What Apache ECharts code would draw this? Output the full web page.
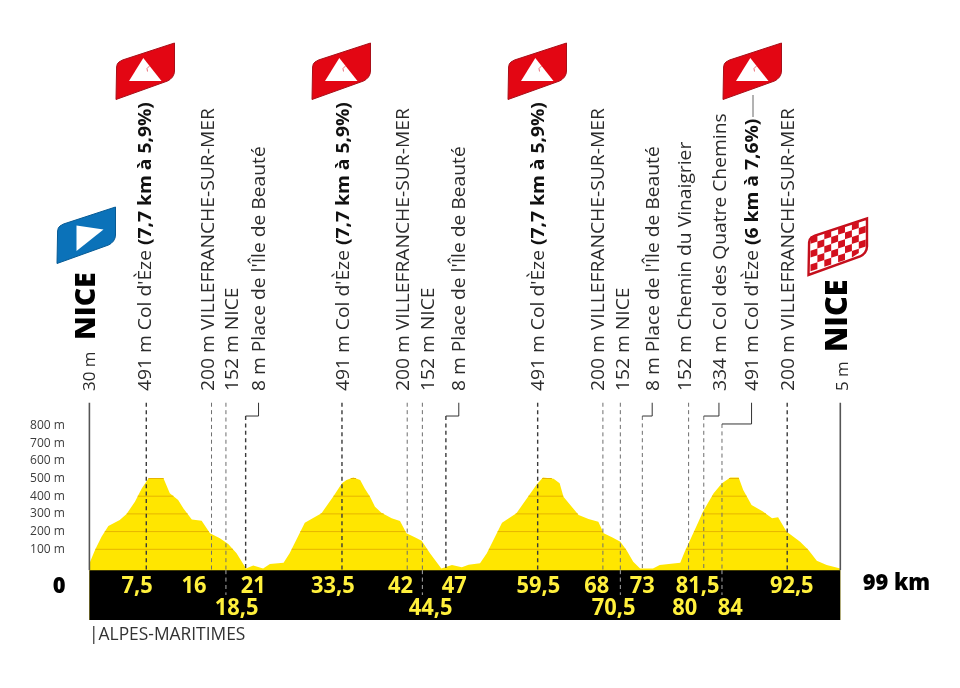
<!DOCTYPE html>
<html><head><meta charset="utf-8">
<style>html,body{margin:0;padding:0;background:#fff}#c{width:960px;height:688px}</style>
<script src="https://cdn.jsdelivr.net/npm/echarts@6/dist/echarts.min.js"></script>
</head><body><div id="c"></div>
<script>
// Elevation profile: km along the stage
var profileKm = [0,0.74,1.6,2.5,4,4.9,6,6.9,7.8,9.75,10.6,11.7,12.4,13.5,14.8,15.9,17.2,18.3,19.4,20.65,21.6,22.9,23.8,25.6,26.4,28.4,30.6,32.2,33.3,33.9,34.8,35.7,36.3,37,37.65,38.5,39.85,40.95,41.8,42.9,43.8,44.9,46.4,47.8,49.1,50,51.5,52.4,54.4,56.3,57.9,59,59.8,61.2,62,62.5,63.4,64.5,65.8,67.1,67.8,68.9,70,70.8,71.7,72.6,74.3,75.2,77.9,78.5,79.2,80.3,80.9,82.3,83.4,84.5,85.6,86.2,87.3,88.8,90,90.8,91.9,93.7,94.8,95.9,97.2,99];
var profileM = [20,96,171,232,266,299,369,444,501,503,416,379,331,269,262,190,162,130,77,-8,9,-8,17,24,77,250,303,401,473,492,505,492,444,397,341,307,275,260,190,168,149,77,-8,11,-2,13,21,77,250,303,401,467,505,499,473,397,350,294,271,256,190,168,143,96,30,-8,-8,11,24,87,153,256,313,416,473,505,505,435,350,313,275,281,200,143,96,36,11,-8];
var gridLevels = [100,200,300,400,500];
var elevTicks = [100,200,300,400,500,600,700,800];

// Waypoints along the route
var stopText = ["491 m Col d'Èze |(7,7 km à 5,9%)","200 m VILLEFRANCHE-SUR-MER","152 m NICE","8 m Place de l'Île de Beauté",
 "491 m Col d'Èze |(7,7 km à 5,9%)","200 m VILLEFRANCHE-SUR-MER","152 m NICE","8 m Place de l'Île de Beauté",
 "491 m Col d'Èze |(7,7 km à 5,9%)","200 m VILLEFRANCHE-SUR-MER","152 m NICE","8 m Place de l'Île de Beauté",
 "152 m Chemin du Vinaigrier","334 m Col des Quatre Chemins","491 m Col d'Èze |(6 km à 7,6%)","200 m VILLEFRANCHE-SUR-MER"];
var stopLineKm = [7.5,16.1,18,20.6,33.3,41.9,43.9,47,59.1,67.7,70,72.9,79,81,83.4,92];
var stopLabelKm = [7.3,15.5,18.7,22.3,33.3,41.3,44.6,48.7,59.1,67,70.3,74.2,78.5,83,87.3,92];
var elbowM = [0,0,0,853,0,0,0,853,0,0,0,853,0,853,808,0];
var stopTone = [1,0,0,1,1,0,0,1,1,0,0,0,0,0,0,1];
var bandDash = [0,0,1,0,0,0,1,0,0,0,1,0,0,0,1,0];

// Distance labels in the black band
var kmText = ["7,5","16","18,5","21","33,5","42","44,5","47","59,5","68","70,5","73","81,5","80","84","92,5"];
var kmTextX = [6.3,13.8,19.4,21.6,32.1,41,45,48.1,59.2,66.9,69.1,72.9,80.2,78.5,84.5,92.6];
var kmRow =   [0,0,1,0,0,0,1,0,0,0,1,0,0,1,1,0];
var rowM = [-111,-233];

var FONT = '"Open Sans"';
var YEL = '#FFE600';
var TOP_M = 928, BASE_M = -18, BOT_M = -300, TEXT_M = 994;

function lvlSegments(level){
  var segs=[], start=null;
  for(var i=0;i<profileKm.length-1;i++){
    var a=profileM[i]-level,b=profileM[i+1]-level;
    var t=(a!==b)?a/(a-b):0, cross=profileKm[i]+t*(profileKm[i+1]-profileKm[i]);
    if(a<0&&b>=0) start=cross;
    if(a>=0&&b<0&&start!==null){segs.push([start,cross]);start=null;}
  }
  return segs;
}
var gridSegs=[];
gridLevels.forEach(function(l){lvlSegments(l).forEach(function(s){gridSegs.push([s[0],s[1],l]);});});

function line(p1,p2,color,w,dash){
  return {type:'line',shape:{x1:p1[0],y1:p1[1],x2:p2[0],y2:p2[1]},
    style:{stroke:color,lineWidth:w,lineDash:dash||null,fill:null}};
}
function polyl(pts,color,w){
  return {type:'polyline',shape:{points:pts},style:{stroke:color,lineWidth:w,fill:null}};
}

// flag artwork
var FLAG=[[58.5,0],[58.5,28],[58,31],[56.5,34],[54,36.5],[51.5,38],[0,56.5],[0.6,24],[1.3,21],[3,19],[6.5,17]];
function mountain(ox,oy){
  return [
   {type:'polygon',x:ox,y:oy,shape:{points:FLAG},style:{fill:'#E30613',stroke:'#A80F19',lineWidth:1}},
   {type:'polygon',x:ox,y:oy,shape:{points:[[13,38],[27.3,15],[45.5,38]]},style:{fill:'#fff'}},
   {type:'polyline',x:ox,y:oy,shape:{points:[[33.5,23],[31,25.5],[31.5,28.5]]},style:{stroke:'#E8606A',lineWidth:0.9,fill:null}}
  ];
}
function startFlag(ox,oy){
  return [
   {type:'polygon',x:ox,y:oy,shape:{points:FLAG},style:{fill:'#0B72B9',stroke:'#075a94',lineWidth:1}},
   {type:'polygon',x:ox,y:oy,shape:{points:[[19.5,18.5],[46.5,22.5],[19.5,44]]},style:{fill:'#fff'}}
  ];
}
function finishFlag(ox,oy){
  var out=[{type:'polygon',x:ox,y:oy,shape:{points:FLAG},style:{fill:'#fff',stroke:'#C40F1C',lineWidth:2.4}}];
  var cw=6.9,ch=6.9,slope=0.327;
  function bottom(x){return Math.min(54.5-0.356*x, x>48?36-(x-48)*0.6:99);}
  for(var i=0;i<8;i++)for(var j=0;j<6;j++){
    if((i+j)%2) continue;
    var x0=2+i*cw, x1=x0+cw;
    var t0=19-0.327*x0+j*ch, t1=t0-cw*slope;
    var b0=Math.min(t0+ch,bottom(x0)), b1=Math.min(t1+ch,bottom(x1));
    if(b0-t0<1.5&&b1-t1<1.5) continue;
    out.push({type:'polygon',x:ox,y:oy,shape:{points:[[x0,t0],[x1,t1],[x1,Math.max(t1,b1)],[x0,Math.max(t0,b0)]]},style:{fill:'#D3101E'}});
  }
  return out;
}
var gfx=[];
[116,312,508,723].forEach(function(x){gfx=gfx.concat(mountain(x,43));});
gfx=gfx.concat(startFlag(57,207)).concat(finishFlag(808.5,218.5));
gfx.push({type:'line',shape:{x1:753,y1:95,x2:753,y2:117},style:{stroke:'#666',lineWidth:1}});
gfx.push({type:'text',x:89,y:635,style:{text:'|ALPES-MARITIMES',fill:'#333',font:'17.4px '+FONT,verticalAlign:'middle'}});

var chart=echarts.init(document.getElementById('c'),null,{renderer:'canvas'});
chart.setOption({
  animation:false,
  backgroundColor:'#fff',
  grid:{left:89.4,top:390,width:750.9,height:230.1,containLabel:false},
  xAxis:{type:'value',min:0,max:99,show:false},
  yAxis:{type:'value',min:-300,max:1000,interval:100,
    axisLine:{show:false},axisTick:{show:false},splitLine:{show:false},
    axisLabel:{margin:24.5,fontFamily:FONT,fontSize:12,color:'#3c3c3c',
      formatter:function(v){return elevTicks.indexOf(v)>=0?v+' m':'';}}},
  graphic:{elements:gfx},
  series:[
    {type:'line',name:'Profil',z:2,symbol:'none',lineStyle:{width:0},
      areaStyle:{color:YEL,opacity:1,origin:'start'},
      data:profileKm.map(function(k,i){return [k,profileM[i]];})},
    {type:'custom',name:'Courbes',z:3,silent:true,data:gridSegs,
      renderItem:function(p,api){
        return line(api.coord([api.value(0),api.value(2)]),api.coord([api.value(1),api.value(2)]),'#E6B400',1);
      },encode:{x:[0,1],y:2}},
    {type:'custom',name:'Bandeau',z:4,silent:true,data:[[0,99,BASE_M,BOT_M]],
      renderItem:function(p,api){
        var a=api.coord([api.value(0),api.value(2)]),b=api.coord([api.value(1),api.value(3)]);
        return {type:'rect',shape:{x:a[0],y:a[1],width:b[0]-a[0],height:b[1]-a[1]},style:{fill:'#000'}};
      },encode:{x:[0,1],y:[2,3]}},
    {type:'custom',name:'Repères',z:5,silent:true,
      data:stopLineKm.map(function(k,i){return [k,i];}),
      renderItem:function(p,api){
        var i=api.value(1),k=stopLineKm[i],lk=stopLabelKm[i],e=elbowM[i];
        var col=stopTone[i]?'#3a3a3a':'#6e6e6e';
        var kids=[];
        var topM=e||TOP_M;
        kids.push(line(api.coord([k,topM]),api.coord([k,BASE_M]),col,stopTone[i]?1.4:1,[4,3.4]));
        if(e){kids.push(polyl([api.coord([lk,TOP_M]),api.coord([lk,e]),api.coord([k,e])],'#333',1));}
        if(bandDash[i]){kids.push(line(api.coord([k,BASE_M]),api.coord([k,BASE_M-140]),'#aaa',1,[4,3.4]));}
        var t=stopText[i].split('|');
        var pos=api.coord([lk,TEXT_M]);
        var txt='{a|'+t[0]+'}'+(t[1]?'{b|'+t[1]+'}':'');
        kids.push({type:'text',x:pos[0]+1.5,y:pos[1],rotation:Math.PI/2,scaleX:1.07,
          style:{text:txt,align:'left',verticalAlign:'middle',
            rich:{a:{fontFamily:FONT,fontSize:18,fill:'#2b2b2b'},
                  b:{fontFamily:FONT,fontSize:18,fontWeight:700,fill:'#111'}}}});
        return {type:'group',children:kids};
      },encode:{x:0}},
    {type:'custom',name:'Départ Arrivée',z:5,silent:true,data:[[0],[99]],
      renderItem:function(p,api){
        var k=api.value(0),first=k===0;
        var base=api.coord([k,BASE_M]),t=api.coord([k,TOP_M]);
        var pos=api.coord([k,TEXT_M]);
        var mLabel=first?'30 m':'5 m';
        return {type:'group',children:[
          line(t,base,'#555',1.6),
          {type:'text',x:pos[0]+(first?1:3),y:pos[1],rotation:Math.PI/2,
            style:{text:mLabel,align:'left',verticalAlign:'middle',fontFamily:FONT,fontSize:17,fill:'#2b2b2b'}},
          {type:'text',x:pos[0]-(first?2.5:1.5),y:pos[1]-(first?51:39),rotation:Math.PI/2,
            style:{text:'NICE',align:'left',verticalAlign:'middle',fontFamily:FONT,fontWeight:800,fontSize:first?28.5:30.5,fill:'#000'}}
        ]};
      },encode:{x:0}},
    {type:'custom',name:'Kilomètres',z:6,silent:true,
      data:kmText.map(function(s,i){return [kmTextX[i],rowM[kmRow[i]]];}),
      renderItem:function(p,api){
        var c=api.coord([api.value(0),api.value(1)]);
        return {type:'text',x:c[0],y:c[1],scaleX:0.95,
          style:{text:kmText[p.dataIndex],align:'center',verticalAlign:'middle',fontFamily:FONT,fontWeight:700,fontSize:23,fill:'#FFF03C'}};
      },encode:{x:0,y:1}},
    {type:'custom',name:'Bornes',z:6,silent:true,data:[[-4,-111],[106.4,-92]],
      renderItem:function(p,api){
        var c=api.coord([api.value(0),api.value(1)]);
        return {type:'text',x:c[0],y:c[1],scaleX:0.95,
          style:{text:p.dataIndex?'99 km':'0',align:'center',verticalAlign:'middle',fontFamily:FONT,fontWeight:800,fontSize:23,fill:'#000'}};
      },encode:{x:0,y:1}}
  ]
});
</script></body></html>
